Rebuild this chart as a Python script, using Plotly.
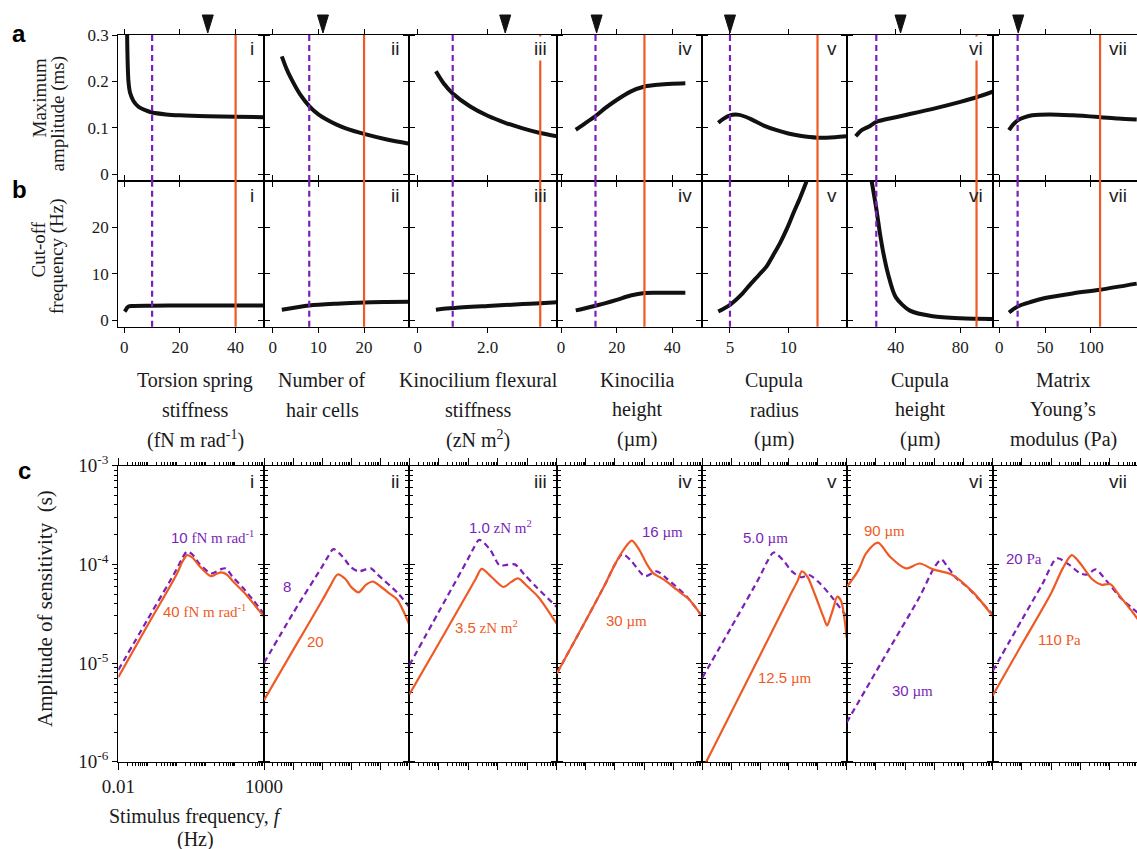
import plotly.graph_objects as go

W, H = 1137, 849
RED = "#EF5A24"
PURPLE = "#7A1FB8"
SERIF = "Liberation Serif"
SANS = "Liberation Sans"

PANELS = ["i", "ii", "iii", "iv", "v", "vi", "vii"]

# ---------------- panel a : maximum amplitude (ms) ----------------
amp_x_i = [0.9, 1.1, 1.5, 2.1, 3.3, 5, 8, 10, 15, 20, 30, 40, 50]
amp_y_i = [0.40, 0.27, 0.20, 0.175, 0.158, 0.146, 0.137, 0.133, 0.129, 0.127, 0.125, 0.124, 0.123]
amp_x_ii = [2, 3, 4, 6, 8, 10, 12, 14, 16, 20, 25, 29.9]
amp_y_ii = [0.254, 0.228, 0.207, 0.172, 0.147, 0.129, 0.117, 0.107, 0.099, 0.087, 0.075, 0.066]
amp_x_iii = [0.52, 0.75, 1.0, 1.5, 2.0, 2.5, 3.0, 3.5, 3.98]
amp_y_iii = [0.222, 0.195, 0.174, 0.146, 0.126, 0.111, 0.099, 0.089, 0.082]
amp_x_iv = [5.3, 8, 12.3, 16, 20, 25, 30, 35, 40, 44.7]
amp_y_iv = [0.096, 0.107, 0.125, 0.143, 0.160, 0.178, 0.189, 0.193, 0.195, 0.196]
amp_x_v = [4.0, 4.4, 5.0, 5.8, 6.7, 7.9, 9, 10, 11, 12.5, 14, 15.0]
amp_y_v = [0.111, 0.119, 0.127, 0.128, 0.120, 0.105, 0.095, 0.088, 0.083, 0.079, 0.080, 0.082]
amp_x_vi = [15.3, 19, 23.5, 28, 40, 63, 80, 90, 100]
amp_y_vi = [0.082, 0.095, 0.103, 0.113, 0.123, 0.141, 0.156, 0.166, 0.178]
amp_x_vii = [10.6, 15, 20, 28, 36, 55, 80, 110, 130, 150]
amp_y_vii = [0.095, 0.107, 0.116, 0.123, 0.127, 0.129, 0.127, 0.123, 0.120, 0.118]

# ---------------- panel b : cut-off frequency (Hz) ----------------
cut_x_i = [0.1, 0.5, 1.0, 1.5, 3, 10, 20, 40, 50]
cut_y_i = [1.9, 2.2, 2.7, 3.0, 3.1, 3.15, 3.2, 3.2, 3.2]
cut_x_ii = [2, 8, 14, 20, 25, 29.9]
cut_y_ii = [2.3, 3.2, 3.6, 3.86, 3.95, 4.0]
cut_x_iii = [0.52, 1.0, 2.0, 3.0, 3.5, 3.98]
cut_y_iii = [2.3, 2.65, 3.1, 3.5, 3.7, 3.9]
cut_x_iv = [5.3, 8, 12.3, 16, 20, 25, 30, 35, 44.7]
cut_y_iv = [2.15, 2.5, 3.15, 3.7, 4.4, 5.35, 5.9, 5.95, 5.95]
cut_x_v = [4.0, 5.0, 6.0, 6.71, 7.5, 8.14, 8.7, 9.29, 9.9, 10.43, 11.0, 11.49, 11.7]
cut_y_v = [1.93, 3.36, 5.6, 7.64, 9.8, 11.6, 14.0, 16.6, 19.8, 23.0, 26.3, 29.4, 30.8]
cut_x_vi = [25.2, 28, 30.3, 32.3, 35.4, 40, 48.8, 63, 80, 90, 100]
cut_y_vi = [29.8, 24.0, 18.6, 14.6, 9.8, 5.0, 2.1, 0.9, 0.45, 0.36, 0.3]
cut_x_vii = [10.6, 20, 35, 50, 80, 110, 150]
cut_y_vii = [1.7, 3.0, 4.0, 4.8, 5.8, 6.6, 7.9]

# parameter values marked in a and b
dashed_vals = [10, 8, 1.0, 12.4, 5.0, 28, 20]
solid_vals = [40, 20, 3.5, 30, 12.5, 90, 110]
arrow_vals = [30, 11, 2.5, 12.8, 5.0, 43, 20.7]

param_ticks = [[0, 20, 40], [0, 10, 20], [0, 2], [0, 20, 40], [5, 10], [40, 80], [0, 50, 100]]
param_ticktext = [["0", "20", "40"], ["0", "10", "20"], ["0", "2.0"], ["0", "20", "40"],
                  ["5", "10"], ["40", "80"], ["0", "50", "100"]]
param_ranges = [[-2.15, 50.2], [-1.9, 29.9], [-0.24, 3.97], [-1.55, 50.8],
                [2.63, 15.0], [9.7, 100.0], [-7.2, 150.3]]

# ---------------- panel c : amplitude of sensitivity (s) ----------------
f_i_solid = [0.01, 0.1, 1, 1.6, 2.3, 3.5, 6.3, 15, 25, 35, 56, 87, 220, 1000]
s_i_solid = [7.2e-6, 2.4e-5, 7.9e-5, 1.07e-4, 1.24e-4, 1.17e-4, 9.5e-5, 7.6e-5, 8.1e-5, 8.3e-5, 7.8e-5, 6.7e-5, 5.1e-5, 2.95e-5]
f_i_dash = [0.01, 0.1, 1, 1.6, 2.3, 3.5, 6.3, 16, 32, 49, 80, 220, 1000]
s_i_dash = [8.5e-6, 2.75e-5, 8.9e-5, 1.17e-4, 1.35e-4, 1.26e-4, 1.0e-4, 8.1e-5, 8.9e-5, 9.1e-5, 7.6e-5, 5.5e-5, 3.16e-5]

f_ii_solid = [0.01, 0.1, 1, 2, 3.4, 6.3, 10, 18, 32, 56, 100, 200, 380, 1000]
s_ii_solid = [4.2e-6, 1.35e-5, 4.3e-5, 6.2e-5, 7.9e-5, 7.1e-5, 5.9e-5, 5.2e-5, 6.2e-5, 6.7e-5, 6.0e-5, 5.1e-5, 4.4e-5, 2.45e-5]
f_ii_dash = [0.01, 0.1, 1, 1.6, 2.45, 5, 10, 18, 32, 48, 80, 380, 1000]
s_ii_dash = [1.0e-5, 3.2e-5, 9.5e-5, 1.2e-4, 1.43e-4, 1.2e-4, 9.3e-5, 8.5e-5, 8.9e-5, 9.1e-5, 7.9e-5, 5.2e-5, 3.7e-5]

f_iii_solid = [0.01, 0.1, 1, 1.78, 2.86, 6.3, 15.5, 28, 49, 100, 234, 1000]
s_iii_solid = [4.8e-6, 1.58e-5, 5.25e-5, 7.1e-5, 9.0e-5, 7.4e-5, 5.9e-5, 6.6e-5, 7.2e-5, 6.0e-5, 4.7e-5, 2.5e-5]
f_iii_dash = [0.01, 0.1, 1, 1.5, 2.37, 5.5, 11.7, 20, 38, 80, 204, 1000]
s_iii_dash = [9.5e-6, 3.3e-5, 1.15e-4, 1.45e-4, 1.77e-4, 1.41e-4, 9.7e-5, 9.9e-5, 1.0e-4, 7.9e-5, 5.9e-5, 3.7e-5]

f_iv_solid = [0.01, 0.1, 0.5, 1, 2, 3.8, 7.1, 12.6, 21, 35, 60, 126, 224, 355, 1000]
s_iv_solid = [7.8e-6, 2.7e-5, 6.6e-5, 1.0e-4, 1.41e-4, 1.74e-4, 1.38e-4, 1.0e-4, 8.1e-5, 7.4e-5, 6.7e-5, 5.6e-5, 4.9e-5, 4.4e-5, 2.95e-5]
f_iv_dash = [0.01, 0.1, 0.5, 1, 1.8, 3.5, 10.7, 27, 63, 295, 1000]
s_iv_dash = [7.8e-6, 2.7e-5, 6.6e-5, 1.0e-4, 1.27e-4, 1.1e-4, 7.6e-5, 8.5e-5, 7.1e-5, 4.7e-5, 2.95e-5]

f_v_solid = [0.01, 1, 10, 20, 28, 45, 69, 155, 209, 282, 355, 468, 631, 1000]
s_v_solid = [8.3e-7, 1.2e-5, 4.6e-5, 6.8e-5, 8.5e-5, 7.4e-5, 5.5e-5, 2.95e-5, 2.4e-5, 3.0e-5, 3.7e-5, 4.7e-5, 4.3e-5, 1.8e-5]
f_v_dash = [0.01, 0.1, 1, 1.78, 2.95, 6.3, 12.6, 27, 50, 126, 316, 1000]
s_v_dash = [7.1e-6, 2.3e-5, 7.6e-5, 1.07e-4, 1.32e-4, 1.1e-4, 8.5e-5, 7.4e-5, 7.8e-5, 6.3e-5, 4.6e-5, 2.95e-5]

f_vi_solid = [0.01, 0.025, 0.046, 0.117, 0.3, 1.05, 3.16, 9.1, 39, 214, 1000]
s_vi_solid = [5.9e-5, 8.7e-5, 1.29e-4, 1.66e-4, 1.2e-4, 9.1e-5, 1.02e-4, 8.9e-5, 7.9e-5, 5.2e-5, 3.0e-5]
f_vi_dash = [0.01, 0.27, 3.16, 10, 17.4, 28, 58, 126, 282, 1000]
s_vi_dash = [2.5e-6, 1.35e-5, 4.7e-5, 9.3e-5, 1.12e-4, 9.5e-5, 7.2e-5, 6.0e-5, 4.7e-5, 3.1e-5]

f_vii_solid = [0.01, 0.1, 1, 2.5, 5.1, 10, 25, 55, 107, 200, 676, 1000]
s_vii_solid = [4.7e-6, 1.55e-5, 5.1e-5, 9.1e-5, 1.24e-4, 1.02e-4, 7.1e-5, 6.2e-5, 6.3e-5, 5.0e-5, 3.16e-5, 2.7e-5]
f_vii_dash = [0.01, 0.1, 0.5, 1.58, 4, 10, 17.4, 33, 79, 251, 537, 1000]
s_vii_dash = [8.3e-6, 2.75e-5, 6.3e-5, 1.15e-4, 1.0e-4, 8.1e-5, 7.9e-5, 8.9e-5, 6.8e-5, 4.5e-5, 3.7e-5, 3.16e-5]

dashed_labels = ["10 fN m rad<sup>-1</sup>", "8", "1.0 zN m<sup>2</sup>", "16 µm", "5.0 µm", "30 µm", "20 Pa"]
solid_labels = ["40 fN m rad<sup>-1</sup>", "20", "3.5 zN m<sup>2</sup>", "30 µm", "12.5 µm", "90 µm", "110 Pa"]

x_titles = [["Torsion spring", "stiffness", "(fN m rad<sup>-1</sup>)"],
            ["Number of", "hair cells"],
            ["Kinocilium flexural", "stiffness", "(zN m<sup>2</sup>)"],
            ["Kinocilia", "height", "(µm)"],
            ["Cupula", "radius", "(µm)"],
            ["Cupula", "height", "(µm)"],
            ["Matrix", "Young’s", "modulus (Pa)"]]

amp_x = [amp_x_i, amp_x_ii, amp_x_iii, amp_x_iv, amp_x_v, amp_x_vi, amp_x_vii]
amp_y = [amp_y_i, amp_y_ii, amp_y_iii, amp_y_iv, amp_y_v, amp_y_vi, amp_y_vii]
cut_x = [cut_x_i, cut_x_ii, cut_x_iii, cut_x_iv, cut_x_v, cut_x_vi, cut_x_vii]
cut_y = [cut_y_i, cut_y_ii, cut_y_iii, cut_y_iv, cut_y_v, cut_y_vi, cut_y_vii]
sens_f_solid = [f_i_solid, f_ii_solid, f_iii_solid, f_iv_solid, f_v_solid, f_vi_solid, f_vii_solid]
sens_solid = [s_i_solid, s_ii_solid, s_iii_solid, s_iv_solid, s_v_solid, s_vi_solid, s_vii_solid]
sens_f_dash = [f_i_dash, f_ii_dash, f_iii_dash, f_iv_dash, f_v_dash, f_vi_dash, f_vii_dash]
sens_dash = [s_i_dash, s_ii_dash, s_iii_dash, s_iv_dash, s_v_dash, s_vi_dash, s_vii_dash]

# ---------------- layout geometry (pixels) ----------------
EDGES = [118.3, 264, 409.3, 556.7, 702.3, 846.7, 992.7, 1137]
ROWS = {"a": (35, 181), "b": (181, 326.7), "c": (465.7, 761.7)}


def X(px):
    return px / W


def Y(py):
    return 1 - py / H


def names(n):
    s = "" if n == 1 else str(n)
    return "xaxis" + s, "yaxis" + s, "x" + s, "y" + s


fig = go.Figure()
layout = dict(width=W, height=H, margin=dict(l=0, r=0, t=0, b=0, autoexpand=False),
              paper_bgcolor="white", plot_bgcolor="white", showlegend=False)
shapes, anns = [], []

axis_base = dict(showline=True, linecolor="black", linewidth=1.2, ticks="outside",
                 tickcolor="black", tickwidth=1.1, showgrid=False, zeroline=False,
                 automargin=False,
                 tickfont=dict(family=SERIF, size=17, color="#1a1a1a"))

for r, row in enumerate(["a", "b", "c"]):
    top, bot = ROWS[row]
    for k in range(7):
        n = r * 7 + k + 1
        xa, ya, xr, yr = names(n)
        xd = [X(EDGES[k]), X(EDGES[k + 1])]
        yd = [Y(bot), Y(top)]
        if row in ("a", "b"):
            xaxis = dict(axis_base, domain=xd, anchor=yr, range=param_ranges[k],
                         tickvals=param_ticks[k], ticktext=param_ticktext[k],
                         ticklen=5, mirror="ticks", showticklabels=(row == "b"))
            if row == "a":
                yaxis = dict(axis_base, domain=yd, anchor=xr, range=[-0.0144, 0.3],
                             tickvals=[0, 0.1, 0.2, 0.3], ticktext=["0", "0.1", "0.2", "0.3"],
                             ticklen=5, showticklabels=(k == 0))
            else:
                yaxis = dict(axis_base, domain=yd, anchor=xr, range=[-1.35, 29.93],
                             tickvals=[0, 10, 20], ticktext=["0", "10", "20"],
                             ticklen=5, showticklabels=(k == 0))
            yaxis["mirror"] = "ticks" if k < 6 else False
        else:
            decades = [0.01, 0.1, 1, 10, 100, 1000]
            xminor = [m * d for d in decades[:-1] for m in range(2, 10)]
            xaxis = dict(axis_base, domain=xd, anchor=yr, type="log", range=[-2, 3 if k < 6 else 2.94],
                         tickvals=[0.01, 1000] if k == 0 else decades,
                         ticktext=["0.01", "1000"] if k == 0 else None,
                         ticklen=7, mirror="ticks", showticklabels=(k == 0),
                         tickfont=dict(family=SERIF, size=19, color="#1a1a1a"),
                         minor=dict(tickvals=xminor + ([0.1, 1, 10, 100] if k == 0 else []),
                                    ticks="outside", ticklen=3,
                                    tickcolor="black", tickwidth=1, showgrid=False))
            ydec = [1e-6, 1e-5, 1e-4, 1e-3]
            yminor = [m * d for d in ydec[:-1] for m in range(2, 10)]
            yaxis = dict(axis_base, domain=yd, anchor=xr, type="log", range=[-6, -3],
                         tickvals=ydec,
                         ticktext=["10<sup>-6</sup>", "10<sup>-5</sup>", "10<sup>-4</sup>", "10<sup>-3</sup>"],
                         ticklen=5, mirror="ticks" if k < 6 else False,
                         showticklabels=(k == 0),
                         tickfont=dict(family=SERIF, size=19, color="#1a1a1a"),
                         minor=dict(tickvals=yminor, ticks="outside", ticklen=3,
                                    tickcolor="black", tickwidth=1, showgrid=False))
        layout[xa] = xaxis
        layout[ya] = yaxis

        if row == "a":
            fig.add_trace(go.Scatter(x=amp_x[k], y=amp_y[k], xaxis=xr, yaxis=yr, mode="lines",
                                     line=dict(color="#111", width=4, shape="spline", smoothing=0.8)))
            # downward arrowhead above the panel at the parameter value
            shapes.append(dict(type="path", xref=xr, xsizemode="pixel", xanchor=arrow_vals[k],
                               yref="paper", ysizemode="pixel", yanchor=Y(top),
                               path="M -5.5,20 L 5.5,20 L 0,2 Z",
                               fillcolor="#111", line=dict(color="#111", width=1)))
        elif row == "b":
            fig.add_trace(go.Scatter(x=cut_x[k], y=cut_y[k], xaxis=xr, yaxis=yr, mode="lines",
                                     line=dict(color="#111", width=4, shape="spline", smoothing=0.8)))
        else:
            fig.add_trace(go.Scatter(x=sens_f_dash[k], y=sens_dash[k], xaxis=xr, yaxis=yr, mode="lines",
                                     line=dict(color=PURPLE, width=2.2, dash="6px,4px",
                                               shape="spline", smoothing=0.8)))
            fig.add_trace(go.Scatter(x=sens_f_solid[k], y=sens_solid[k], xaxis=xr, yaxis=yr, mode="lines",
                                     line=dict(color=RED, width=2.2, shape="spline", smoothing=0.8)))

        if row in ("a", "b"):
            shapes.append(dict(type="line", xref=xr, yref=yr + " domain", x0=dashed_vals[k], x1=dashed_vals[k],
                               y0=0, y1=1, line=dict(color=PURPLE, width=2.2, dash="6px,4px")))
            shapes.append(dict(type="line", xref=xr, yref=yr + " domain", x0=solid_vals[k], x1=solid_vals[k],
                               y0=0, y1=1, line=dict(color=RED, width=2.2)))

        # roman numerals
        num_y = {"a": 48.3, "b": 196, "c": 481.5}[row]
        d = dict(x=X(EDGES[k + 1] - 8), y=Y(num_y), xref="paper", yref="paper", text=PANELS[k],
                 showarrow=False, xanchor="right", yanchor="middle",
                 font=dict(family=SANS, size=19, color="#222"))
        if row == "a" and k in (2, 5):
            d["bgcolor"] = "white"
        anns.append(d)


def txt(px, py, s, size=20, color="#1a1a1a", family=SERIF, angle=0, xanchor="center"):
    anns.append(dict(x=X(px), y=Y(py), xref="paper", yref="paper", text=s, showarrow=False,
                     font=dict(family=family, size=size, color=color), textangle=angle,
                     xanchor=xanchor, yanchor="middle"))


# panel letters
txt(18.5, 33, "<b>a</b>", size=24, family=SANS, color="black")
txt(19, 189, "<b>b</b>", size=24, family=SANS, color="black")
txt(24, 471, "<b>c</b>", size=24, family=SANS, color="black")

# y titles
txt(38.5, 98, "Maximum", size=19, angle=-90)
txt(57, 113.5, "amplitude (ms)", size=19, angle=-90)
txt(38.5, 250, "Cut-off", size=19, angle=-90)
txt(57, 256, "frequency (Hz)", size=19, angle=-90)
txt(45, 609, "Amplitude of sensitivity  (s)", size=21, angle=-90)

# x titles below b
centers = [195, 322, 478, 637, 774, 920, 1063]
for k, lines in enumerate(x_titles):
    for j, line in enumerate(lines):
        txt(centers[k], 380 + 29.5 * j, line, size=20)

txt(195, 816, "Stimulus frequency, <i>f</i>", size=20)
txt(195, 839, "(Hz)", size=20)

# curve labels in c
dash_pos = [(212, 537), (286.7, 586), (500, 527), (662.7, 531.7), (765.8, 537.3), (912, 690), (1023.7, 558.3)]
solid_pos = [(204, 611), (315.3, 641), (486, 626.7), (626.3, 620), (785, 677), (884, 530), (1059, 639.3)]


def mixed(label):
    parts = label.split(" ", 1)
    head = '<span style="font-family:%s">%s</span>' % (SANS, parts[0])
    return head if len(parts) == 1 else head + " " + parts[1]


for k in range(7):
    px, py = dash_pos[k]
    txt(px, py, mixed(dashed_labels[k]), size=15, color=PURPLE)
    px, py = solid_pos[k]
    txt(px, py, mixed(solid_labels[k]), size=15, color=RED)

layout["shapes"] = shapes
layout["annotations"] = anns
fig.update_layout(**layout)
fig.write_html("out.html", config={"displayModeBar": False},
               post_script="document.body.style.margin='0';document.body.style.overflow='hidden';")
